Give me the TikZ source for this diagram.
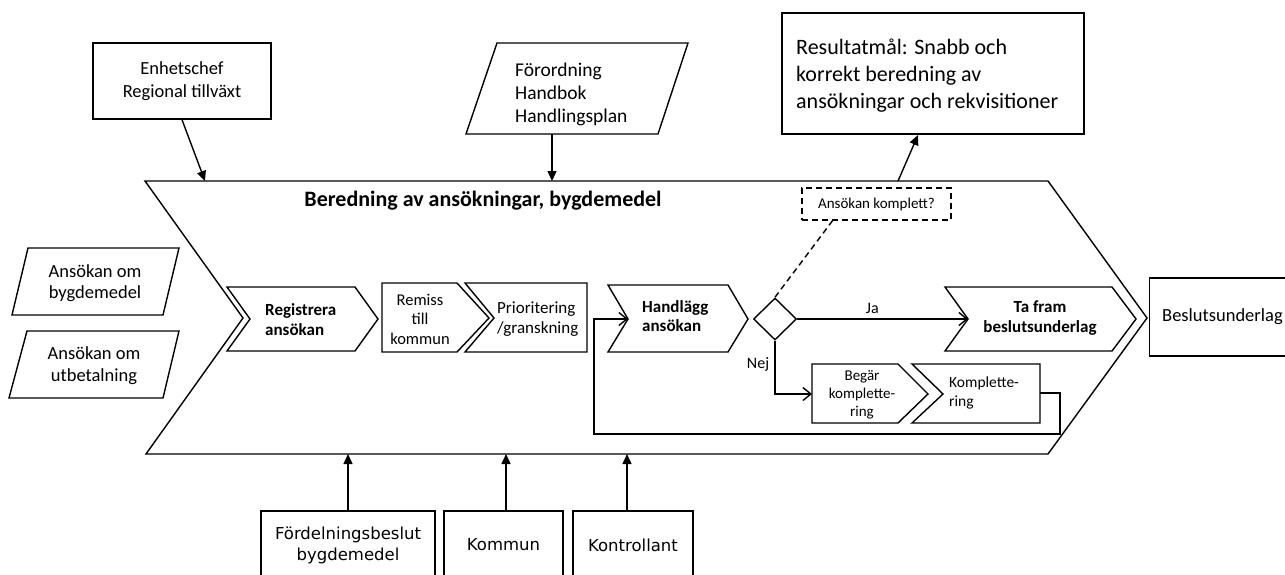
\documentclass[tikz,border=0pt]{standalone}
\usepackage{fontspec}
\setmainfont{Carlito}
\newfontfamily\boxfont{DejaVu Sans}
\usetikzlibrary{arrows.meta,shapes.geometric,calc}
\newcommand\fsz[2]{\fontsize{#1}{#2}\selectfont}
\begin{document}
\begin{tikzpicture}[x=1pt,y=-1pt,
  outline/.style={draw=black, line width=1.4pt, line join=miter},
  box/.style={outline, inner sep=0pt, align=center},
  txt/.style={inner sep=0pt, align=center},
  solidarrow/.style={line width=1.4pt, -{Triangle[length=10pt,width=9pt]}},
  openarrow/.style={line width=1.4pt, -{Straight Barb[length=8pt,width=13pt,line width=1.4pt]}},
  dashline/.style={line width=1.4pt, dash pattern=on 6pt off 4pt},
]
\useasboundingbox (0,0) rectangle (1285,574);
\clip (0,0) rectangle (1285,574);

% main process band
\draw[outline] (145,181) -- (1048,181) -- (1147,318) -- (1048,454) -- (146,454) -- (243,318) -- cycle;
\coordinate (bandTop) at (0,181);
\coordinate (bandBottom) at (0,454);
\node[txt, font=\fsz{22}{24}\bfseries] (title) at (483,201) {Beredning av ansökningar, bygdemedel};

% controls and mechanisms above
\node[box, minimum width=178pt, minimum height=76pt, font=\fsz{18.5}{23}] (enh) at (182,81) {Enhetschef\\Regional tillväxt};
\coordinate (enhIn) at (205,181);
\draw[solidarrow] (enh.south) -- (enhIn);

\draw[outline] (497,43) -- (688,43) -- (658,134) -- (466,134) -- cycle;
\node[txt, anchor=west, align=left, font=\fsz{19.5}{23}] (forord) at (515,94) {Förordning\\Handbok\\Handlingsplan};
\coordinate (forordOut) at (552,134);
\draw[solidarrow] (forordOut) -- (forordOut |- bandTop);

\node[box, minimum width=302pt, minimum height=121pt] (res) at (933,73.5) {};
\node[txt, anchor=west, align=left, font=\fsz{22}{27}] (restext) at (796,76) {Resultatmål: Snabb och\\korrekt beredning av\\ansökningar och rekvisitioner};
\coordinate (procOut) at (898,181);
\coordinate (resIn) at (918,135);
\draw[solidarrow] (procOut) -- (resIn);

% inputs
\draw[outline] (28,248) -- (179,248) -- (163,315) -- (12,315) -- cycle;
\node[txt, font=\fsz{18.5}{21}] (in1) at (95,283) {Ansökan om\\bygdemedel};
\draw[outline] (27,331) -- (179,331) -- (163,398) -- (9,398) -- cycle;
\node[txt, font=\fsz{18.5}{22}] (in2) at (94,366) {Ansökan om\\utbetalning};

% process steps
\draw[outline] (227,287) -- (355,287) -- (378,319) -- (355,351) -- (227,351) -- (250,319) -- cycle;
\node[txt, anchor=west, align=left, font=\fsz{17}{20}\bfseries] (reg) at (265,320) {Registrera\\ansökan};

\draw[outline] (382,283) -- (457,283) -- (489,318) -- (457,352) -- (382,352) -- cycle;
\node[txt, font=\fsz{16.5}{19.5}] (rem) at (420,319) {Remiss\\till\\kommun};

\draw[outline] (465,283) -- (587,283) -- (587,352) -- (465,352) -- (494,318) -- cycle;
\node[txt, anchor=west, align=left, font=\fsz{17}{20}] (prio) at (497,319) {Prioritering\\/granskning};

\draw[outline] (608,285) -- (728,285) -- (748,319) -- (728,352) -- (608,352) -- (628,319) -- cycle;
\node[txt, anchor=west, align=left, font=\fsz{17}{19.5}\bfseries] (hand) at (642,316) {Handlägg\\ansökan};
\coordinate (handIn) at (628,319);

\node[outline, diamond, minimum width=43pt, minimum height=42pt, inner sep=0pt] (dec) at (775,319) {};

\draw[outline] (945,287) -- (1112,287) -- (1136,319) -- (1112,351) -- (945,351) -- (968,319) -- cycle;
\node[txt, font=\fsz{17}{20}\bfseries] (taf) at (1040,318) {Ta fram\\beslutsunderlag};
\coordinate (tafIn) at (968,319);

\draw[outline] (812,364) -- (898,364) -- (928,394) -- (898,423) -- (812,423) -- cycle;
\node[txt, font=\fsz{15}{18}] (beg) at (862,395) {Begär\\komplette-\\ring};
\coordinate (begIn) at (812,394);

\draw[outline] (912,364) -- (1040,364) -- (1040,423) -- (912,423) -- (943,394) -- cycle;
\node[txt, anchor=west, align=left, font=\fsz{15.5}{19}] (komp) at (949,393) {Komplette-\\ring};
\coordinate (kompOut) at (1040,393);

% decision flow
\draw[openarrow] (dec.east) -- node[pos=0.44, above=5pt, txt, font=\fsz{16}{18}] (ja) {Ja} (tafIn);
\draw[openarrow] (dec.south) |- (begIn);
\node[txt, font=\fsz{16}{18}] (nej) at (758,364) {Nej};
\draw[openarrow] (kompOut) -- (1060,393) -- (1060,434) -- (594,434) -- (594,319) -- (handIn);

\node[draw, dashline, minimum width=149pt, minimum height=32pt, inner sep=0pt, font=\fsz{15}{17}] (q) at (876.5,204) {Ansökan komplett?};
\coordinate (qFoot) at (833,220);
\draw[dashline] (dec.north) -- (qFoot);

% output
\node[box, minimum width=150pt, minimum height=78pt, anchor=west, font=\fsz{18.5}{20}] (bes) at (1149,317) {};
\node[txt, anchor=west, font=\fsz{18.5}{20}] (bestext) at (1162,317) {Beslutsunderlag};

% mechanisms below
\node[box, minimum width=174pt, minimum height=68pt, font=\boxfont\fsz{16.5}{21}] (ford) at (348,545) {Fördelningsbeslut\\bygdemedel};
\node[box, minimum width=119pt, minimum height=68pt, font=\boxfont\fsz{16.5}{21}] (kom) at (503.5,545) {Kommun};
\node[box, minimum width=120pt, minimum height=68pt, font=\boxfont\fsz{16.5}{21}] (kon) at (633,545) {Kontrollant};
\coordinate (komTop) at ($(kom.north)+(2.5,0)$);
\coordinate (konTop) at ($(kon.north)+(-6,0)$);
\draw[solidarrow] (ford.north) -- (ford.north |- bandBottom);
\draw[solidarrow] (komTop) -- (komTop |- bandBottom);
\draw[solidarrow] (konTop) -- (konTop |- bandBottom);
\end{tikzpicture}
\end{document}
